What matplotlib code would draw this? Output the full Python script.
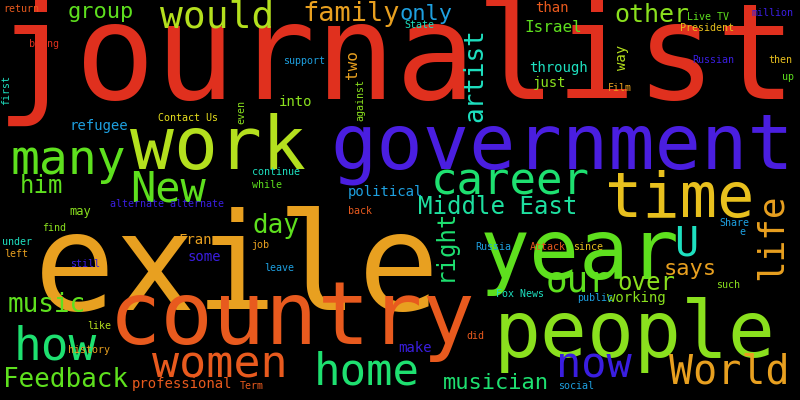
import matplotlib
matplotlib.use('Agg')
import matplotlib.pyplot as plt

# words, their pixel font size, colour and rotation
words = ['journalist', 'exile', 'government', 'country', 'people', 'year', 'work', 'time',
         'many', 'career', 'New', 'would', 'family', 'only', 'other', 'group', 'artist',
         'Israel', 'than', 'two', 'through', 'just', 'way', 'Live TV', 'President', 'million',
         'Russian', 'then', 'up', 'Film', 'State', 'support', 'return', 'being', 'first',
         'Contact Us', 'against', 'even', 'into', 'refugee', 'him', 'may', 'continue', 'while',
         'alternate alternate', 'find', 'under', 'left', 'still', 'day', 'political',
         'Middle East', 'right', 'France', 'some', 'job', 'leave', 'U', 'life', 'Share', 'e',
         'our', 'over', 'says', 'Russia', 'Attack', 'since', 'music', 'working', 'Fox News',
         'public', 'such', 'like', 'how', 'history', 'women', 'home', 'make', 'did', 'now',
         'World', 'Feedback', 'professional', 'Term', 'musician', 'social', 'back']
sizes = [133, 135, 77, 87, 78, 83, 73, 62, 48, 44, 42, 38, 27, 22, 25, 22, 26,
         16, 14, 16, 14, 14, 14, 10, 10, 10,
         10, 10, 10, 10, 10, 10, 10, 10, 10,
         10, 10, 10, 14, 14, 24, 12, 10, 10,
         10, 10, 10, 10, 10, 26, 14,
         24, 24, 14, 14, 10, 10, 40, 36, 10, 10,
         36, 24, 22, 10, 10, 10, 26, 14, 10,
         10, 10, 10, 46, 10, 45, 44, 14, 10, 42,
         40, 26, 14, 10, 22, 10, 10]
xs = [397, 237, 562, 292, 635, 580, 218, 680, 68, 510, 168, 217, 351, 426, 652, 101, 475,
      553, 552, 352, 558, 549, 622, 708, 707, 772,
      713, 780, 788, 620, 419, 304, 21, 44, 6,
      188, 360, 241, 296, 99, 41, 80, 276, 267,
      167, 54, 17, 16, 85, 276, 385,
      498, 445, 203, 204, 260, 279, 686, 772, 734, 742,
      578, 646, 690, 493, 548, 588, 47, 636, 520,
      595, 728, 99, 55, 89, 220, 367, 415, 475, 594,
      729, 65, 182, 252, 496, 576, 360]
ys = [62, 272, 148, 320, 335, 255, 148, 200, 160, 182, 190, 18, 14, 14, 15, 12, 75,
      28, 8, 65, 68, 83, 57, 17, 28, 13,
      60, 60, 77, 88, 25, 61, 9, 44, 90,
      118, 100, 112, 102, 126, 186, 211, 172, 185,
      204, 228, 242, 254, 264, 226, 192,
      207, 245, 240, 257, 245, 268, 245, 237, 223, 232,
      282, 283, 269, 247, 247, 247, 305, 298, 294,
      298, 285, 326, 347, 350, 365, 372, 348, 336, 365,
      373, 380, 384, 386, 383, 386, 211]
rots = [0] * len(words)
for w in ['artist', 'two', 'way', 'first', 'against', 'even', 'right', 'life']:
    rots[words.index(w)] = 90

RED, ORANGE, DORANGE, YEL = '#e0301e', '#e8a020', '#e85a1e', '#e8c01e'
LIME, YG, GREEN, TEAL = '#8ae01e', '#b4e01e', '#5ee01e', '#1ee070'
CYAN, AQUA, BLUE, PURPLE = '#1ee0c0', '#1ea0e0', '#3a1ee0', '#4a1ee0'
colors = [RED, ORANGE, PURPLE, DORANGE, LIME, GREEN, YG, YEL, GREEN, TEAL, GREEN, YG,
          ORANGE, AQUA, LIME, GREEN, CYAN,
          GREEN, DORANGE, ORANGE, CYAN, LIME, YG, GREEN, YEL, BLUE,
          BLUE, YEL, GREEN, ORANGE, CYAN, AQUA, DORANGE, RED, CYAN,
          '#e8e01e', LIME, LIME, LIME, AQUA, GREEN, LIME, CYAN, GREEN,
          BLUE, LIME, CYAN, ORANGE, BLUE, GREEN, AQUA,
          '#1ee0a0', TEAL, ORANGE, BLUE, ORANGE, AQUA, CYAN, ORANGE, AQUA, AQUA,
          GREEN, LIME, ORANGE, AQUA, DORANGE, YEL, GREEN, LIME, CYAN,
          AQUA, LIME, YG, TEAL, ORANGE, DORANGE, TEAL, BLUE, DORANGE, BLUE,
          ORANGE, GREEN, DORANGE, DORANGE, TEAL, AQUA, DORANGE]

fig = plt.figure(figsize=(8, 4), dpi=100, facecolor='black')
ax = fig.add_axes([0, 0, 1, 1])
ax.set_facecolor('black')
ax.set_xlim(0, 800)
ax.set_ylim(400, 0)
ax.axis('off')

for w, s, x, y, c, r in zip(words, sizes, xs, ys, colors, rots):
    ax.text(x, y, w, fontsize=s * 0.72, color=c, rotation=r,
            ha='center', va='center', family='DejaVu Sans Mono',
            zorder=200 - s)

fig.savefig('out.png', facecolor='black')
